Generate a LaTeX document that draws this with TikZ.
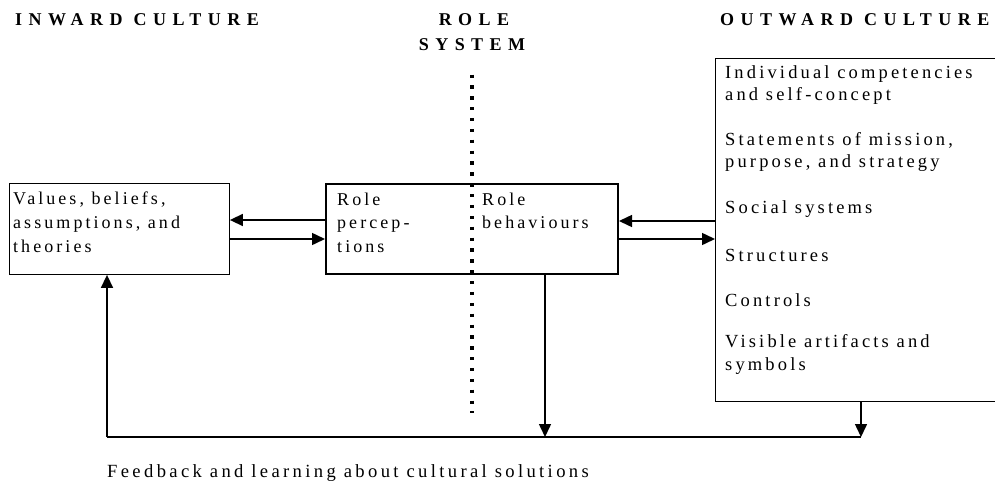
\documentclass[tikz,border=0pt]{standalone}
\usepackage{fontspec}
\setmainfont{Liberation Serif}
\newfontfamily\bodyfont[LetterSpace=17]{Liberation Serif}
\newfontfamily\fbfont[LetterSpace=18]{Liberation Serif}
\newfontfamily\titlefont[LetterSpace=36]{Liberation Serif Bold}
\usetikzlibrary{arrows.meta}
\begin{document}
\begin{tikzpicture}[x=1pt,y=-1pt,
  thinbox/.style={draw, line width=0.9pt, inner sep=0pt, anchor=north west},
  rolebox/.style={draw, line width=2pt, inner sep=0pt, anchor=north west},
  txt/.style={anchor=base west, inner sep=0pt, font=\bodyfont\fontsize{18}{22}\selectfont},
  otxt/.style={txt, font=\bodyfont\fontsize{18.5}{22}\selectfont},
  fbtxt/.style={anchor=base west, inner sep=0pt, font=\fbfont\fontsize{18.6}{22}\selectfont},
  ttl/.style={anchor=base west, inner sep=0pt, font=\titlefont\fontsize{18}{22}\selectfont},
  conn/.style={line width=1.5pt, -{Triangle[length=13pt,width=12pt]}},
  fbline/.style={line width=1.5pt},
  dotline/.style={line width=3.2pt, dash pattern=on 3.3pt off 7.57pt}
]
\useasboundingbox (0,0) rectangle (995,482);

% titles
\node[ttl] (tin) at (15,25) {INWARD CULTURE};
\node[ttl, anchor=base] (trole) at (474,25) {ROLE};
\node[ttl, anchor=base] (tsys) at (472,50) {SYSTEM};
\node[ttl] (tout) at (720,25) {OUTWARD CULTURE};

% dotted divider
\coordinate (dtop) at (472,74.5);
\coordinate (dbot) at (472,413);
\draw[dotline] (dtop) -- (dbot);

% boxes
\node[thinbox, minimum width=220pt, minimum height=91pt] (inw) at (9,183) {};
\node[rolebox, minimum width=292pt, minimum height=90pt] (role) at (325,183) {};
\node[thinbox, minimum width=290pt, minimum height=343pt] (outw) at (715,58) {};

% inward text
\node[txt] (i1) at (13,204) {Values, beliefs,};
\node[txt] (i2) at (13,228) {assumptions, and};
\node[txt] (i3) at (13,252) {theories};

% role text
\node[txt] (r1) at (337,205) {Role};
\node[txt] (r2) at (337,228) {percep-};
\node[txt] (r3) at (337,252) {tions};
\node[txt] (r4) at (482,205) {Role};
\node[txt] (r5) at (482,228) {behaviours};

% outward text
\node[otxt] (o1) at (725,78) {Individual competencies};
\node[otxt] (o2) at (725,100) {and self-concept};
\node[otxt] (o3) at (725,145) {Statements of mission,};
\node[otxt] (o4) at (725,167) {purpose, and strategy};
\node[otxt] (o5) at (725,213) {Social systems};
\node[otxt] (o6) at (725,261) {Structures};
\node[otxt] (o7) at (725,306) {Controls};
\node[otxt] (o8) at (725,347) {Visible artifacts and};
\node[otxt] (o9) at (725,370) {symbols};

% feedback text
\node[fbtxt] (fb) at (107,477) {Feedback and learning about cultural solutions};

% horizontal connectors
\draw[conn] ([yshift=9pt]role.west) -- ([yshift=9pt]role.west -| inw.east);
\draw[conn] ([yshift=-10pt]role.west -| inw.east) -- ([yshift=-10pt]role.west);
\draw[conn] ([yshift=8pt]role.east -| outw.west) -- ([yshift=8pt]role.east);
\draw[conn] ([yshift=-10pt]role.east) -- ([yshift=-10pt]role.east -| outw.west);

% feedback loop
\coordinate (fbL) at (107,437);
\coordinate (fbR) at (861,437);
\draw[fbline] (fbL) -- (fbR);
\draw[conn] (fbL) -- (fbL |- inw.south);
\draw[conn] ([xshift=73pt]role.south) -- ([xshift=73pt]role.south |- fbL);
\draw[conn] (fbR |- outw.south) -- (fbR);
\end{tikzpicture}
\end{document}
